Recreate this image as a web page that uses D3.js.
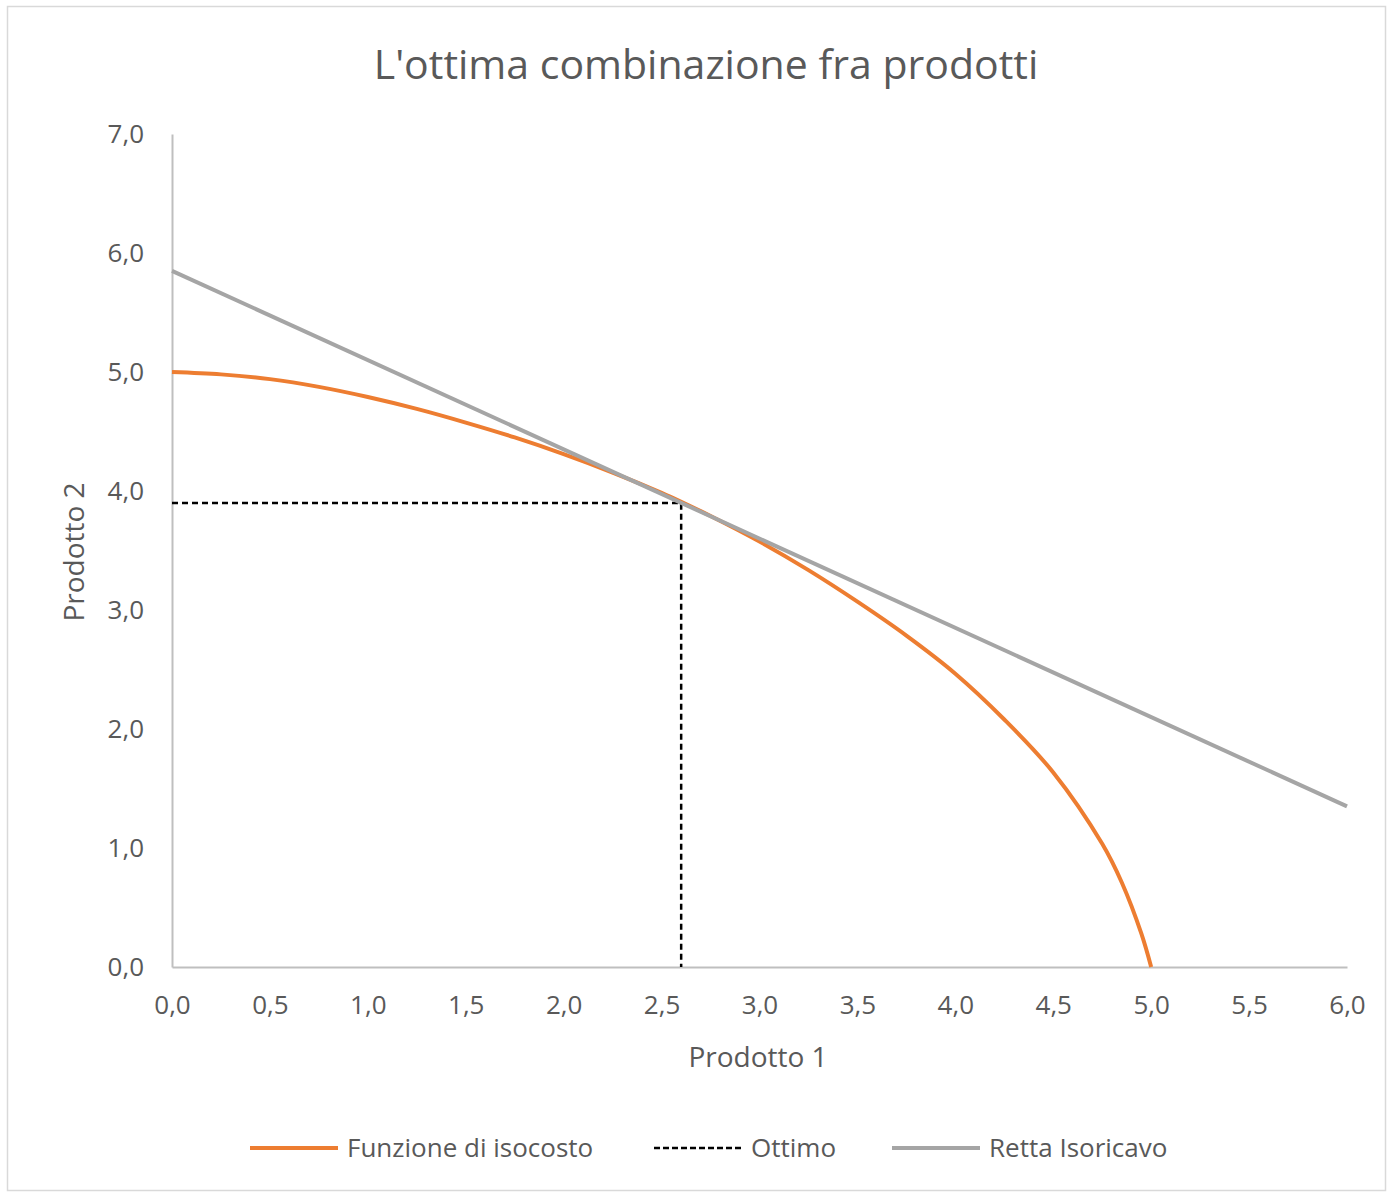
<!DOCTYPE html>
<meta charset="utf-8">
<script src="https://d3js.org/d3.v7.min.js"></script>
<style>
  body { margin: 0; background: #fff; }
  text { font-family: "Open Sans", "Noto Sans", sans-serif; fill: #595959; }
</style>
<div id="my_dataviz"></div>
<script>

// data
var isoX = [0, 0.25, 0.5, 0.75, 1.0, 1.25, 1.5, 1.75, 2.0, 2.25, 2.5, 2.6, 2.75, 3.0, 3.25, 3.5, 3.75, 4.0, 4.25, 4.5, 4.75, 4.85, 4.95, 5.0];
var isoY = [5.00, 4.98, 4.94, 4.875, 4.79, 4.69, 4.575, 4.45, 4.31, 4.155, 3.985, 3.91, 3.79, 3.575, 3.335, 3.07, 2.785, 2.465, 2.08, 1.635, 1.035, 0.71, 0.28, 0.0];
var rettaX = [0, 6];
var rettaY = [5.85, 1.35];
var ottimoX = [0, 2.6, 2.6];
var ottimoY = [3.9, 3.9, 0];
var xTicks = [0, 0.5, 1, 1.5, 2, 2.5, 3, 3.5, 4, 4.5, 5, 5.5, 6];
var yTicks = [0, 1, 2, 3, 4, 5, 6, 7];
var legendLabels = ["Funzione di isocosto", "Ottimo", "Retta Isoricavo"];

var W = 1387, H = 1192;

var svg = d3.select("#my_dataviz")
  .append("svg")
    .attr("width", W)
    .attr("height", H);

// chart frame
svg.append("rect")
  .attr("x", 7.5).attr("y", 6.5)
  .attr("width", W - 9).attr("height", H - 8)
  .attr("fill", "#fff")
  .attr("stroke", "#d9d9d9")
  .attr("stroke-width", 1.5);

var x = d3.scaleLinear().domain([0, 6]).range([172, 1347]);
var y = d3.scaleLinear().domain([0, 7]).range([967, 134]);

var fmt = function(d) { return d3.format(".1f")(d).replace(".", ","); };

// X axis
var gx = svg.append("g")
  .attr("transform", "translate(0," + y(0) + ")")
  .call(d3.axisBottom(x).tickValues(xTicks).tickSize(0).tickPadding(29).tickFormat(fmt));
gx.select(".domain").attr("stroke", "#bfbfbf").attr("stroke-width", 2);
gx.selectAll("text").style("font-size", "26px").attr("fill", "#595959").attr("font-family", null);

// Y axis
var gy = svg.append("g")
  .attr("transform", "translate(" + x(0) + ",0)")
  .call(d3.axisLeft(y).tickValues(yTicks).tickSize(0).tickPadding(28).tickFormat(fmt));
gy.select(".domain").attr("stroke", "#bfbfbf").attr("stroke-width", 2);
gy.selectAll("text").style("font-size", "26px").attr("fill", "#595959").attr("font-family", null);

// title and axis titles
svg.append("text")
  .attr("x", 706).attr("y", 79)
  .attr("text-anchor", "middle")
  .style("font-size", "41px")
  .text("L'ottima combinazione fra prodotti");

svg.append("text")
  .attr("x", 758).attr("y", 1067)
  .attr("text-anchor", "middle")
  .style("font-size", "28px")
  .text("Prodotto 1");

svg.append("text")
  .attr("transform", "translate(84,552) rotate(-90)")
  .attr("text-anchor", "middle")
  .style("font-size", "28px")
  .text("Prodotto 2");

var line = d3.line()
  .x(function(d) { return x(d[0]); })
  .y(function(d) { return y(d[1]); });

// Ottimo (dashed)
svg.append("path")
  .datum(d3.zip(ottimoX, ottimoY))
  .attr("fill", "none")
  .attr("stroke", "#000")
  .attr("stroke-width", 2.5)
  .attr("stroke-dasharray", "6,4")
  .attr("d", line);

// Funzione di isocosto
svg.append("path")
  .datum(d3.zip(isoX, isoY))
  .attr("fill", "none")
  .attr("stroke", "#ed7d31")
  .attr("stroke-width", 4)
  .attr("d", line.curve(d3.curveCatmullRom.alpha(0.5)));

// Retta Isoricavo
svg.append("path")
  .datum(d3.zip(rettaX, rettaY))
  .attr("fill", "none")
  .attr("stroke", "#a5a5a5")
  .attr("stroke-width", 4)
  .attr("d", line.curve(d3.curveLinear));

// legend
var legendX = [250, 654, 892];
var legendStyle = [
  {stroke: "#ed7d31", dash: null, w: 4},
  {stroke: "#000", dash: "6,3", w: 2.5},
  {stroke: "#a5a5a5", dash: null, w: 4}
];
var lg = svg.selectAll(".legend")
  .data(legendLabels)
  .enter().append("g")
    .attr("class", "legend")
    .attr("transform", function(d, i) { return "translate(" + legendX[i] + ",1148)"; });
lg.append("line")
  .attr("x1", 0).attr("x2", 88)
  .attr("stroke", function(d, i) { return legendStyle[i].stroke; })
  .attr("stroke-width", function(d, i) { return legendStyle[i].w; })
  .attr("stroke-dasharray", function(d, i) { return legendStyle[i].dash; });
lg.append("text")
  .attr("x", 97).attr("dy", "0.35em")
  .style("font-size", "26px")
  .text(function(d) { return d; });

</script>
